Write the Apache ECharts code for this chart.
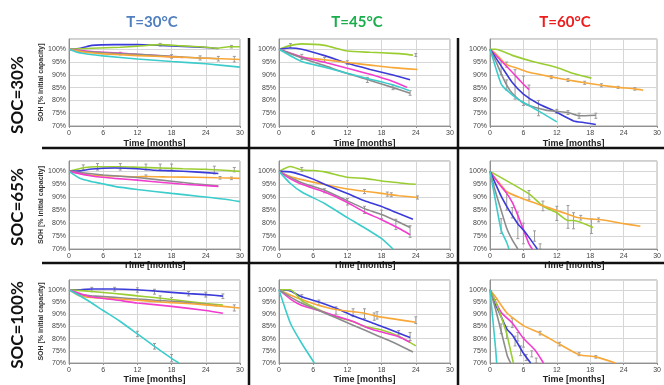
<!DOCTYPE html>
<html><head><meta charset="utf-8">
<script src="https://cdn.jsdelivr.net/npm/echarts@6/dist/echarts.min.js"></script>
<style>html,body{margin:0;padding:0;background:#fff}#c{width:664px;height:385px}</style>
</head><body><div id="c"></div>
<script>
// ---- DATA ----
const temps = ["T=30°C", "T=45°C", "T=60°C"];
const socs = ["SOC=30%", "SOC=65%", "SOC=100%"];
const xTicks = [0, 6, 12, 18, 24, 30];
const yTicks = [70, 75, 80, 85, 90, 95, 100];
const xTitle = "Time [months]";
const yTitle = "SOH [% initial capacity]";

// row SOC=30%
const s30_30 = {
  blue: [[0,100],[2,100.4],[4,101.5],[8,101.8],[12,101.8],[16,101.5],[20,101.1],[24,100.7],[26.2,100.3]],
  green: [[0,100],[4,100.4],[9,100.8],[12,101.2],[16,101.8],[20,101.3],[23,101],[26,100.4],[28,101],[30,101]],
  magenta: [[0,100],[4,99.1],[9,98.5],[12,98],[16,97.4],[20,96.8]],
  gray: [[0,100],[2,99.2],[5,98.8],[9,98.3],[12,98],[18,97.2],[23,96.6],[26.2,96.3]],
  orange: [[0,100],[3,98.8],[6,98.2],[12,97.5],[18,97],[24,96.5],[30,96]],
  cyan: [[0,100],[2,98.5],[6,97.4],[12,96.2],[18,95.2],[24,94.3],[30,93]]
};
const s45_30 = {
  green: [[0,100],[2,101.5],[4,102.1],[8,101.5],[12,99.3],[16,98.8],[20,98.4],[22,98.1],[23.5,97.7]],
  blue: [[0,100],[2,100.5],[4,100],[8,97.5],[12,94.5],[16,92.1],[20,89.9],[23,88.1]],
  orange: [[0,100],[4,97],[8,95.9],[12,94.8],[16,93.8],[20,92.8],[24.3,92.1]],
  magenta: [[0,100],[4,97],[8,94.9],[12,92.6],[16,90.2],[20,87.4],[22.5,85.1]],
  gray: [[0,100],[4,96.6],[8,93.6],[12,90.5],[16,87.8],[20,85],[23,82.8]],
  cyan: [[0,100],[4,95.2],[8,93],[12,90.6],[16,88.3],[20,86],[22.8,83.9]]
};
const s60_30 = {
  green: [[0,100],[1,100],[4,97.6],[8,95],[12,92.9],[15,90.5],[18.2,88.7]],
  orange: [[0,100],[1,98.3],[2,96],[3,94],[5,92.5],[7,91],[11,89.2],[14,88],[17,86.9],[20,85.9],[23,85.1],[26,84.5],[27.5,84]],
  magenta: [[0,100],[2,95.5],[4,91],[5.5,87.5],[7,84.2]],
  blue: [[0,100],[2,93.5],[4,87],[6,82.5],[8.6,78.8],[11.6,75.8],[15,72],[17,71.3],[19,70.6]],
  gray: [[0,100],[1,95.5],[2,90.5],[3,86],[4,82.8],[6,79],[8,77.3],[10,76.2],[12,75.7],[14,75.3],[16,74],[19,74.2]],
  cyan: [[0,100],[1,93],[2,86.5],[3,84],[5,80.5],[7,78],[9,75.5],[12,71.6]]
};
// row SOC=65%
const s30_65 = {
  green: [[0,100],[2.5,101.4],[5,101.8],[9,101.8],[12,101.6],[16,101.3],[20,101],[24,100.8],[28,100.3],[30,100]],
  blue: [[0,100],[2,100.2],[4,100.9],[8,101.3],[12,101],[15,100.4],[18,100.2],[22,99.8],[26.2,99.2]],
  orange: [[0,100],[4,98.5],[8,98.2],[12,97.9],[13.5,98],[18,97.8],[22,97.7],[26,97.5],[30,97.3]],
  gray: [[0,100],[6,98.6],[12,97.6],[18,96.2],[22,95.2],[26.2,94.3]],
  magenta: [[0,100],[4,98.2],[8,97.3],[12,96.6],[16,95.8],[20,95],[26.2,94.2]],
  cyan: [[0,100],[2,97.2],[4,96],[5.5,95.4],[8,94.2],[12,93],[18,91.5],[23,90.3],[27,89.3],[30,88.3]]
};
const s45_65 = {
  green: [[0,100],[2,101.9],[4,100.5],[6,100.3],[8,99.8],[12,97.7],[15,97.3],[18,96.3],[21,95.6],[23,95.1],[24,95]],
  orange: [[0,100],[2,98],[4,96.8],[8,94.9],[12,93.2],[15,92.3],[18,91.5],[19.5,91],[21,90.6],[24.3,89.9]],
  blue: [[0,100],[2,99.8],[4,98.6],[6,97],[8,95],[12,91.4],[15,88.6],[18,86.4],[21,83.7],[23.5,81.5]],
  gray: [[0,100],[2,97.6],[4,95.6],[8,92.7],[12,88.6],[15,85.6],[18,83.3],[21,80.4],[23,78.3]],
  magenta: [[0,100],[2,97.1],[4,95],[8,92],[12,88],[15,84.3],[18,81.3],[21,78],[23,75.5]],
  cyan: [[0,100],[2,95.3],[4,92],[8,87.6],[12,82.1],[15,78.2],[18,74],[20,70]]
};
const s60_65 = {
  green: [[0,100],[7,91.3],[9.5,86.6],[12,84],[14,81],[15,81],[18.5,78.3]],
  orange: [[0,100],[1,97.2],[2,94.6],[3,92.1],[6,89.3],[9.5,86.7],[12,84.9],[14,83.4],[15.5,82.3],[18,81.6],[20,81.3],[24,79.8],[27,78.8]],
  magenta: [[0,100],[1.5,95.5],[3,91.5],[4,88],[5,83],[6,77.5],[7,72],[7.6,70]],
  blue: [[0,100],[2,90.4],[3,86.5],[4,83],[5,79.7],[6,77.3],[7,74.5],[8.5,70]],
  gray: [[0,100],[1,92],[2,85],[3,78],[4,73.5],[5,70]],
  cyan: [[0,100],[1,88.5],[2,77.3],[3,72.5],[3.4,70]]
};
// row SOC=100%
const s30_100 = {
  blue: [[0,100],[2,100],[4,100.3],[8,100.3],[12,100],[15,99.5],[21,98.4],[24,98],[27,97.4]],
  green: [[0,100],[4,99.3],[8,98.5],[12,97.5],[15,96.8],[18,96],[24,94.4],[27,93.7]],
  gray: [[0,100],[2,98],[4,97.5],[8,96.9],[12,96.2],[15,95.7],[20,95],[24,94],[26,93.5]],
  orange: [[0,100],[2,97.4],[4,96.8],[8,96.3],[12,95.7],[16,95],[20,94.5],[24,93.8],[28,93],[30,92.5]],
  magenta: [[0,100],[4,97],[8,95.9],[12,94.6],[18,93.2],[24,91.5],[27,90.4]],
  cyan: [[0,100],[3,96],[6,91.5],[9,87],[12,81.9],[15,76.8],[18,71.9],[19.3,70]]
};
const s45_100 = {
  blue: [[0,100],[2,99.5],[4,97.1],[7,95],[10,92.4],[13,89.4],[17,85.9],[21,82.3],[23,80.4]],
  orange: [[0,100],[3,96.8],[6.5,94],[10,91.9],[13,91],[15,90.4],[17,89.2],[24,86.7]],
  green: [[0,100],[2,100],[4,95.5],[7,91.8],[10,88.9],[13,87],[15,85],[18,83.5],[21,81],[24,77]],
  magenta: [[0,100],[2,96.2],[4,93.6],[7,91.5],[10,89.2],[13,87],[15,85],[17,83.3],[21,80.8],[23,78.5]],
  gray: [[0,100],[2,97],[4,94.5],[7,91.5],[10,88.5],[13,85.5],[17,81.5],[20,78.5],[23.5,74.5]],
  cyan: [[0,100],[2,86.3],[4,78],[6.2,70]]
};
const s60_100 = {
  orange: [[0,100],[1,97],[3,90.6],[6,85.3],[9,82.2],[12.5,77.7],[16,73.4],[19,72.5],[22.5,70]],
  magenta: [[0,100],[2,90.8],[4,86.4],[6,80.1],[8,75.5],[9.6,70]],
  blue: [[0,100],[1,94],[2,89],[3,84],[4,81.5],[5,77.9],[6,74],[7.3,70]],
  green: [[0,100],[1,95],[2,89],[3,82],[3.6,76],[4.2,70]],
  gray: [[0,100],[1,92],[2,83],[2.6,77.5],[3.1,73],[3.7,70]],
  cyan: [[0,100],[0.5,88],[1,76],[1.2,70]]
};
const panels = [s30_30, s45_30, s60_30, s30_65, s45_65, s60_65, s30_100, s45_100, s60_100];

// error bars per panel: [month, low %, high %]
const e30_30 = [[2,98.8,99.6],[9,97.8,98.8],[18,96.5,97.9],[23,95.8,97.4],[26.2,95.4,97.2],[29,95,97.2],[16,101.3,102.3],[28.5,100.5,101.5]];
const e45_30 = [[2,100.8,102.2],[4,96,98],[8,95,96.8],[12,94,95.5],[15.5,87,89],[20,84.2,86],[23,82,83.8],[24,97.2,98.3]];
const e60_30 = [[2,90,95.5],[3,84,88],[4.5,80.5,92],[6,78,89.5],[7,78,86],[8.7,74,80],[12,75,76.5],[14,74.5,76],[16,73,75],[19,73,75],[3,93,95],[11,88.5,89.7],[14,87.4,88.5],[17,86.3,87.5],[20,85.3,86.5],[23,84.7,85.5],[26,84,85]];
const e30_65 = [[2.5,100.5,102.5],[5,100.5,103],[9,100.5,103],[13.5,100.5,102.8],[13.5,97.2,98.6],[16,100.8,102.8],[18,100.5,102.8],[25.5,99,102],[29,99.8,101.5],[26.5,97,98],[28.5,96.8,97.8]];
const e45_65 = [[4,100,101.5],[8,91.7,93.3],[12,87,89.5],[15,83.7,86.5],[18,81.8,85],[20.5,77.5,81.5],[23,74.5,79],[15,91.4,93],[19,90.4,92],[19.7,90.2,91.7],[24.3,89.3,90.5]];
const e60_65 = [[2,76,81.7],[3,85,92],[4,82,86],[5,74,84.3],[6,72,80],[7,89,92.6],[8,73,77],[9,70,72],[9.5,84.8,88.5],[12,81,86.5],[14,78,86.8],[15,77.8,84],[16.3,81.2,83],[18.2,76,81.6],[19.5,80.5,82]];
const e30_100 = [[4,99.2,101],[8,99.5,101],[12,99,100.8],[15,98.2,100.2],[16,95.3,97.5],[18,94.8,96.8],[21,97.5,99.3],[24,97,99],[27,96.4,98.3],[29,91.3,93.8],[12,80.8,83],[15,75.7,78],[18,70.5,73.5]];
const e45_100 = [[4,96,98],[7,93.5,95.8],[10,90,93],[13,89,92.2],[15,88.2,92.2],[16.7,87.5,90.5],[17.2,88,91],[21,81.5,83.3],[23,79.2,82.5],[24,86.2,88.9]];
const e60_100 = [[1,93,96],[2,82,86],[3,80,85],[4,84.5,88.3],[4.5,77,81],[5,79,82.5],[5.5,73,77],[6,76.5,80.5],[6.5,71,73.5],[7.5,72.5,75],[8.3,70,72],[9,81.5,83],[12.5,77,78.5],[16,73,74.2],[19,72,73]];
const errs = [e30_30, e45_30, e60_30, e30_65, e45_65, e60_65, e30_100, e45_100, e60_100];

// ---- STYLE / LAYOUT ----
const colors = { blue:'#3b3bd9', green:'#9acd32', magenta:'#f23ccf', gray:'#8c8c8c', orange:'#f7a838', cyan:'#3ccccc' };
const titleColors = ['#4f7fbf', '#1aad4b', '#ee1c1c'];
const colLeft = [69, 279, 490], colW = [171, 171, 169];
const rowTop = [39, 161, 280], rowH = [87, 88, 87];
const font = 'Liberation Sans, Arial, sans-serif';
const boldFont = 'Lato, Open Sans, sans-serif';

function errRender(params, api) {
  const x = api.value(0);
  const lo = api.coord([x, api.value(1)]);
  const hi = api.coord([x, api.value(2)]);
  const st = { stroke: '#9a9a9a', lineWidth: 1 };
  return { type: 'group', children: [
    { type: 'line', shape: { x1: lo[0], y1: lo[1], x2: hi[0], y2: hi[1] }, style: st },
    { type: 'line', shape: { x1: lo[0] - 1.5, y1: lo[1], x2: lo[0] + 1.5, y2: lo[1] }, style: st },
    { type: 'line', shape: { x1: hi[0] - 1.5, y1: hi[1], x2: hi[0] + 1.5, y2: hi[1] }, style: st }
  ] };
}

const grid = [], xAxis = [], yAxis = [], series = [];
for (let r = 0; r < 3; r++) for (let c = 0; c < 3; c++) {
  const i = r * 3 + c;
  grid.push({ left: colLeft[c], top: rowTop[r], width: colW[c], height: rowH[r], show: true, borderColor: '#a0a0a0', borderWidth: 1, backgroundColor: '#fff' });
  xAxis.push({ gridIndex: i, type: 'value', min: xTicks[0], max: xTicks[xTicks.length-1], interval: 6,
    name: xTitle, nameLocation: 'middle', nameGap: r === 0 ? 13 : 12,
    nameTextStyle: { fontFamily: font, fontWeight: 'bold', fontSize: 9, color: '#222' },
    axisLine: { show: true, lineStyle: { color: '#909090' } }, axisTick: { show: true, length: 2, lineStyle: { color: '#909090' } },
    axisLabel: { fontFamily: font, fontSize: 7, color: '#444', margin: 4 },
    splitLine: { show: true, lineStyle: { color: '#d6d6d6', width: 1 } } });
  yAxis.push({ gridIndex: i, type: 'value', min: 70, max: 104, interval: 5,
    name: c === 0 ? yTitle : '', nameLocation: 'middle', nameGap: 23,
    nameTextStyle: { fontFamily: font, fontWeight: 'bold', fontSize: 7, color: '#333' },
    axisLine: { show: true, lineStyle: { color: '#909090' } }, axisTick: { show: false },
    axisLabel: { fontFamily: font, fontSize: 7, color: '#444', margin: 3, formatter: v => yTicks.includes(v) ? v + '%' : '' },
    splitLine: { show: true, lineStyle: { color: '#d6d6d6', width: 1 } } });
  series.push({ type: 'custom', xAxisIndex: i, yAxisIndex: i, data: errs[i], renderItem: errRender, z: 1, clip: true, animation: false });
  const p = panels[i];
  for (const k of Object.keys(p)) {
    series.push({ type: 'line', xAxisIndex: i, yAxisIndex: i, data: p[k], showSymbol: false, smooth: 0.2, z: 2,
      lineStyle: { color: colors[k], width: 1.6 }, itemStyle: { color: colors[k] }, animation: false });
  }
}

const graphic = [];
const titleX = [152, 357, 565];
temps.forEach((t, c) => graphic.push({ type: 'text', x: titleX[c], y: 22, style: { text: t, fill: titleColors[c], font: 'bold 15px ' + boldFont, align: 'center', verticalAlign: 'middle' } }));
const rowY = [95, 207, 325];
socs.forEach((s, r) => graphic.push({ type: 'text', x: 18, y: rowY[r], rotation: Math.PI / 2, style: { text: s, fill: '#111', font: 'bold 17px ' + boldFont, align: 'center', verticalAlign: 'middle' } }));
// dividers
[[249, 38, 249, 385], [458, 38, 458, 385], [42, 148, 664, 148], [42, 263, 664, 263]].forEach(l =>
  graphic.push({ type: 'line', shape: { x1: l[0], y1: l[1], x2: l[2], y2: l[3] }, style: { stroke: '#111', lineWidth: 2.5 }, z: 100 }));

const chart = echarts.init(document.getElementById('c'), null, { renderer: 'canvas' });
chart.setOption({ animation: false, grid, xAxis, yAxis, series, graphic });
</script></body></html>
